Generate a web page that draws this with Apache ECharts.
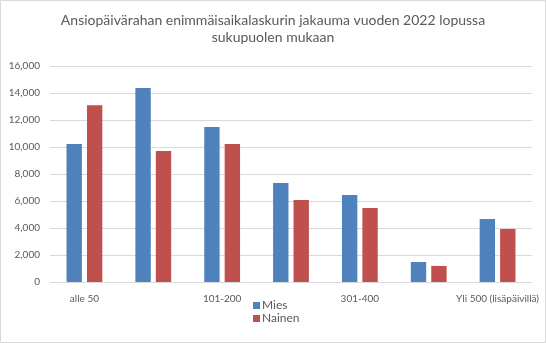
<!DOCTYPE html>
<html><head><meta charset="utf-8">
<script src="https://cdn.jsdelivr.net/npm/echarts@6/dist/echarts.min.js"></script>
<style>html,body{margin:0;padding:0;background:#fff}#c{width:546px;height:343px}</style>
</head><body><div id="c"></div>
<script>
const categories = ["alle 50", "51-100", "101-200", "201-300", "301-400", "401-500", "Yli 500 (lisäpäivillä)"];
const mies = [10220, 14370, 11480, 7330, 6440, 1480, 4670];
const nainen = [13100, 9700, 10220, 6070, 5480, 1190, 3930];
const seriesNames = ["Mies", "Nainen"];
const titleText = "Ansiopäivärahan enimmäisaikalaskurin jakauma vuoden 2022 lopussa\nsukupuolen mukaan";

const font = "Lato, 'Open Sans', sans-serif";
const chart = echarts.init(document.getElementById('c'), null, {renderer: 'canvas'});
chart.setOption({
  animation: false,
  backgroundColor: '#fff',
  textStyle: {fontFamily: font},
  graphic: [{type: 'rect', shape: {x: 0.5, y: 0.5, width: 545, height: 342}, style: {fill: 'none', stroke: '#d9d9d9', lineWidth: 1}, silent: true}],
  title: {text: titleText, left: 'center', top: 7, textStyle: {fontFamily: font, fontSize: 14, fontWeight: 'normal', color: '#595959', lineHeight: 17}},
  legend: {orient: 'vertical', left: 248, top: 294, itemWidth: 7, itemHeight: 7, itemGap: 0, icon: 'rect',
    textStyle: {fontFamily: font, fontSize: 12, lineHeight: 13, color: '#595959', padding: [0, 0, 0, -3]}, data: seriesNames},
  grid: {left: 50, right: 14, top: 66, bottom: 61, containLabel: false},
  xAxis: {type: 'category', data: categories,
    axisLine: {lineStyle: {color: '#d9d9d9'}}, axisTick: {show: false},
    axisLabel: {interval: 1, color: '#595959', fontSize: 10, fontFamily: font, margin: 12}},
  yAxis: {type: 'value', min: 0, max: 16000, interval: 2000,
    axisLine: {show: false}, axisTick: {show: false},
    splitLine: {lineStyle: {color: '#d9d9d9'}},
    axisLabel: {color: '#595959', fontSize: 10, fontFamily: font, margin: 10,
      formatter: v => v.toLocaleString('en-US')}},
  series: [
    {name: seriesNames[0], type: 'bar', data: mies, itemStyle: {color: '#4F81BD'}, barGap: '33%', barCategoryGap: '48%'},
    {name: seriesNames[1], type: 'bar', data: nainen, itemStyle: {color: '#C0504D'}, barGap: '33%', barCategoryGap: '48%'}
  ]
});
</script></body></html>
